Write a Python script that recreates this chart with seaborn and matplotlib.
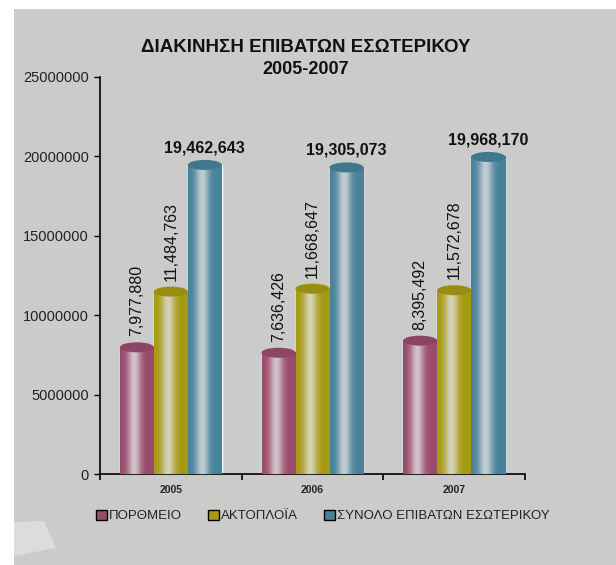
import numpy as np
import pandas as pd
import seaborn as sns
import matplotlib
matplotlib.use("Agg")
from matplotlib import pyplot as plt
from matplotlib.patches import Ellipse, Rectangle, Polygon
from matplotlib.colors import to_rgb

# data
years = ["2005", "2006", "2007"]
series = ["ΠΟΡΘΜΕΙΟ", "ΑΚΤΟΠΛΟΪΑ", "ΣΥΝΟΛΟ ΕΠΙΒΑΤΩΝ ΕΣΩΤΕΡΙΚΟΥ"]
porthmeio = [7977880, 7636426, 8395492]
aktoploia = [11484763, 11668647, 11572678]
synolo = [19462643, 19305073, 19968170]
yticks = [0, 5000000, 10000000, 15000000, 20000000, 25000000]
colors = ["#9a4a6c", "#a69a12", "#47819a"]

rows = []
for name, vals in zip(series, [porthmeio, aktoploia, synolo]):
    for y, v in zip(years, vals):
        rows.append({"year": y, "series": name, "value": v})
df = pd.DataFrame(rows)

sns.set_style("white")
plt.rcParams["font.family"] = ["Liberation Sans", "DejaVu Sans"]

W, H = 616, 565
fig = plt.figure(figsize=(W / 100, H / 100), dpi=100, facecolor="white")
bg = "#cbcbc9"
fig.patches.append(Rectangle((14 / W, 0), 1, (H - 9) / H, transform=fig.transFigure,
                             facecolor=bg, edgecolor="none", zorder=-2))
fig.patches.append(Polygon([(14 / W, (H - 522) / H), (44 / W, (H - 521) / H), (56 / W, (H - 548) / H),
                            (14 / W, (H - 556) / H)], closed=True, transform=fig.transFigure,
                           facecolor="#dcdcdb", edgecolor="none", zorder=-1))

ax = fig.add_axes([100 / W, (H - 474) / H, 425 / W, 397 / H])
ax.set_facecolor("none")
ax.set_zorder(1)

sns.barplot(data=df, x="year", y="value", hue="series", palette=colors,
            width=0.72, ax=ax, legend=False, saturation=1, zorder=2)

ymax = 25000000
ell_h = 10 / 397 * ymax
t = np.linspace(0, 1, 64)
f = np.exp(-((t - 0.42) / 0.2) ** 2) * 0.8
for cont, col in zip(ax.containers, colors):
    base = np.array(to_rgb(col))
    light = np.array([0.88, 0.88, 0.88])
    grad = base[None, :] * (1 - f[:, None]) + light[None, :] * f[:, None]
    grad = grad[None, :, :]
    for bar in cont:
        x0, w, h = bar.get_x(), bar.get_width(), bar.get_height()
        ax.imshow(grad, extent=[x0, x0 + w, 0, h], aspect="auto", zorder=3, interpolation="bilinear")
        ax.add_patch(Ellipse((x0 + w / 2, h), w, ell_h, facecolor=base * 0.92,
                             edgecolor="none", zorder=4))

# value labels
for i in range(3):
    for k, vals in enumerate([porthmeio, aktoploia]):
        bar = ax.containers[k][i]
        cx = bar.get_x() + bar.get_width() / 2
        ax.annotate(f"{vals[i]:,}", (cx, vals[i]), xytext=(0, 8), textcoords="offset points",
                    rotation=90, ha="center", va="bottom", fontsize=11.5, color="#111111", zorder=5)
    bar = ax.containers[2][i]
    cx = bar.get_x() + bar.get_width() / 2
    ax.annotate(f"{synolo[i]:,}", (cx, synolo[i]), xytext=(0, 7), textcoords="offset points",
                ha="center", va="bottom", fontsize=11.5, fontweight="bold", color="#111111", zorder=5)

ax.set_xlim(-0.5, 2.5)
ax.set_ylim(0, ymax)
ax.set_yticks(yticks)
ax.set_yticklabels([str(v) for v in yticks], fontsize=10.5, color="#222222")
ax.set_xticks(range(3))
ax.set_xticklabels(years, fontsize=7.5, fontweight="bold", color="#222222")
ax.set_xticks([-0.5, 0.5, 1.5, 2.5], minor=True)
ax.tick_params(axis="x", which="major", length=0, pad=8)
ax.tick_params(axis="x", which="minor", length=4, width=1.2, direction="out", color="black", bottom=True)
ax.tick_params(axis="y", length=4, width=1, direction="out", color="black", left=True, pad=4)
ax.set_xlabel("")
ax.set_ylabel("")
for s in ["top", "right"]:
    ax.spines[s].set_visible(False)
for s in ["left", "bottom"]:
    ax.spines[s].set_color("black")
    ax.spines[s].set_linewidth(1.2)

fig.text(306 / W, 1 - 47 / H, "ΔΙΑΚΙΝΗΣΗ ΕΠΙΒΑΤΩΝ ΕΣΩΤΕΡΙΚΟΥ", ha="center", va="center",
         fontsize=13.5, fontweight="bold", color="#111111")
fig.text(306 / W, 1 - 70 / H, "2005-2007", ha="center", va="center",
         fontsize=13, fontweight="bold", color="#111111")

handles = [Rectangle((0, 0), 1, 1, facecolor=c, edgecolor="black", linewidth=1) for c in colors]
fig.legend(handles, series, loc="center", bbox_to_anchor=(323 / W, 1 - 516 / H), ncol=3,
           frameon=False, fontsize=9.5, handlelength=0.8, handleheight=0.8, handletextpad=0.15,
           columnspacing=2.0, labelcolor="#222222")

fig.savefig("out.png", dpi=100, facecolor="white")
